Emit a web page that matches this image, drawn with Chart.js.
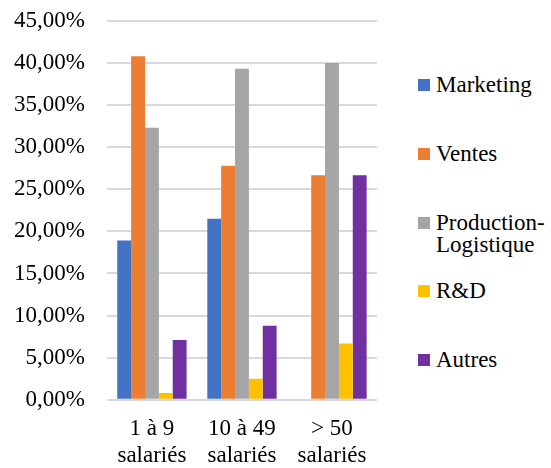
<!DOCTYPE html>
<html>
<head>
<meta charset="utf-8">
<script src="https://cdn.jsdelivr.net/npm/chart.js@4"></script>
<style>
    body { margin: 0; background: #fff; overflow: hidden; }
    #wrap { position: relative; width: 551px; height: 468px; overflow: hidden; font-family: "Liberation Serif", "Times New Roman", serif; }
    #barChart { position: absolute; left: -16px; top: -15px; }
    #legend { position: absolute; left: 418px; top: 0; }
    .item { position: absolute; left: 0; white-space: nowrap; font-size: 23px; line-height: 22px; color: #000; }
    .box { position: absolute; left: 0; top: 5px; width: 12px; height: 12px; }
    .txt { position: absolute; left: 18px; top: 0; }
</style>
</head>
<body>
<div id="wrap">
    <canvas id="barChart" width="408" height="492"></canvas>
    <div id="legend"></div>
</div>
<script>
// Chart data (percent)
const categories = [["1 à 9", "salariés"], ["10 à 49", "salariés"], ["> 50", "salariés"]];
const seriesNames = ["Marketing", "Ventes", "Production-Logistique", "R&D", "Autres"];
const marketing = [18.9, 21.5, 0];
const ventes = [40.8, 27.8, 26.67];
const production = [32.3, 39.3, 40.0];
const rnd = [0.8, 2.5, 6.67];
const autres = [7.1, 8.8, 26.67];
const seriesColors = ["#4472C4", "#ED7D31", "#A5A5A5", "#FFC000", "#7030A0"];

const allValues = [marketing, ventes, production, rnd, autres];
const fontFamily = "'Liberation Serif', 'Times New Roman', serif";

let ctx = document.getElementById("barChart").getContext("2d");

new Chart(ctx, {
    type: "bar",
    data: {
        labels: categories,
        datasets: seriesNames.map((name, i) => ({
            label: name,
            data: allValues[i],
            backgroundColor: seriesColors[i],
            borderWidth: 0,
            categoryPercentage: 0.77,
            barPercentage: 1
        }))
    },
    options: {
        responsive: false,
        animation: false,
        layout: { padding: { top: 6, right: 15, bottom: 0, left: 8 } },
        plugins: {
            legend: { display: false },
            tooltip: { enabled: false }
        },
        scales: {
            x: {
                grid: { display: false },
                border: { display: false },
                ticks: {
                    color: "#000",
                    padding: 7,
                    font: { family: fontFamily, size: 23, lineHeight: 1.2 }
                }
            },
            y: {
                min: 0,
                max: 45,
                border: { display: false },
                grid: { color: "#d9d9d9", lineWidth: 2, drawTicks: false },
                ticks: {
                    stepSize: 5,
                    color: "#000",
                    padding: 22,
                    font: { family: fontFamily, size: 23 },
                    callback: value => value.toFixed(2).replace(".", ",") + "%"
                }
            }
        }
    }
});

// Legend, spaced out like the original
const legend = document.getElementById("legend");
seriesNames.forEach((name, i) => {
    let item = document.createElement("div");
    item.className = "item";
    item.style.top = (74 + i * 68.8) + "px";
    item.innerHTML = '<span class="box" style="background:' + seriesColors[i] + '"></span>' +
        '<span class="txt"></span>';
    item.querySelector(".txt").innerHTML = name.replace("&", "&amp;").replace("-", "-<br>");
    legend.appendChild(item);
});
</script>
</body>
</html>
